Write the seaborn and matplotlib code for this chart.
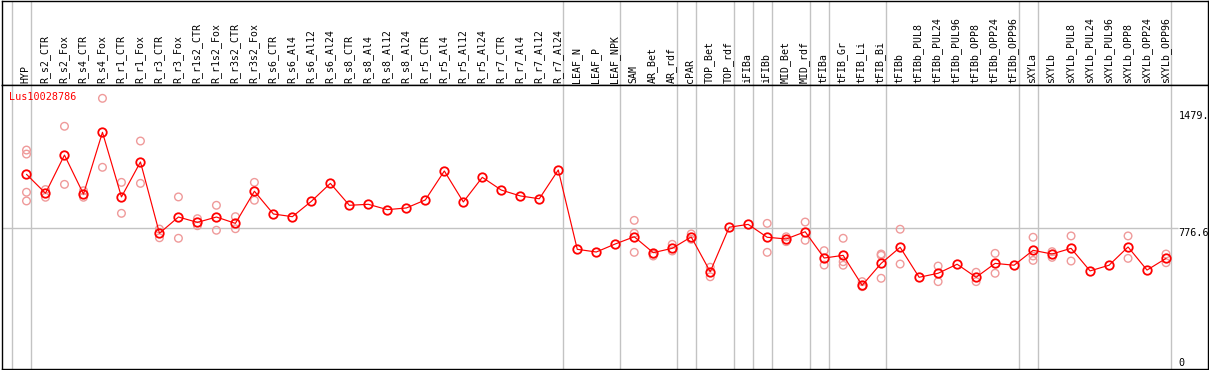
"""Expression profile of Lus10028786 across tissues/treatments (means + replicates)."""

import matplotlib

matplotlib.use("Agg")

import matplotlib.pyplot as plt  # noqa: E402
import numpy as np  # noqa: E402
import pandas as pd  # noqa: E402
import seaborn as sns  # noqa: E402

gene_id = "Lus10028786"

categories = [
    "HYP", "R_s2_CTR", "R_s2_Fox", "R_s4_CTR", "R_s4_Fox", "R_r1_CTR", "R_r1_Fox",
    "R_r3_CTR", "R_r3_Fox", "R_r1s2_CTR", "R_r1s2_Fox", "R_r3s2_CTR", "R_r3s2_Fox",
    "R_s6_CTR", "R_s6_Al4", "R_s6_Al12", "R_s6_Al24", "R_s8_CTR", "R_s8_Al4",
    "R_s8_Al12", "R_s8_Al24", "R_r5_CTR", "R_r5_Al4", "R_r5_Al12", "R_r5_Al24",
    "R_r7_CTR", "R_r7_Al4", "R_r7_Al12", "R_r7_Al24", "LEAF_N", "LEAF_P", "LEAF_NPK",
    "SAM", "AR_Bet", "AR_rdf", "cPAR", "TOP_Bet", "TOP_rdf", "iFIBa", "iFIBb",
    "MID_Bet", "MID_rdf", "tFIBa", "tFIB_Gr", "tFIB_Li", "tFIB_Bi", "tFIBb",
    "tFIBb_PUL8", "tFIBb_PUL24", "tFIBb_PUL96", "tFIBb_OPP8", "tFIBb_OPP24",
    "tFIBb_OPP96", "sXYLa", "sXYLb", "sXYLb_PUL8", "sXYLb_PUL24", "sXYLb_PUL96",
    "sXYLb_OPP8", "sXYLb_OPP24", "sXYLb_OPP96",
]

means = [
    1099, 986, 1214, 981, 1350, 964, 1173, 747, 844, 812, 844, 806, 998,
    862, 846, 938, 1045, 914, 920, 888, 898, 946, 1119, 934, 1081,
    1005, 970, 953, 1125, 651, 635, 683,
    726, 631, 657, 725, 517, 783, 800, 723,
    713, 756, 599, 615, 436, 567, 663,
    484, 508, 562, 484, 567,
    556, 645, 623, 657, 522, 556,
    665, 527, 597,
]

# individual replicate values (only where they are visible apart from the mean)
replicates = {
    "HYP": [1244, 1220, 992, 940],
    "R_s2_CTR": [1008, 962],
    "R_s2_Fox": [1386, 1039],
    "R_s4_CTR": [1001, 962],
    "R_s4_Fox": [1553, 1141],
    "R_r1_CTR": [1051, 866],
    "R_r1_Fox": [1298, 1045],
    "R_r3_CTR": [772, 720],
    "R_r3_Fox": [964, 717],
    "R_r1s2_CTR": [834, 792],
    "R_r1s2_Fox": [914, 765],
    "R_r3s2_CTR": [846, 774],
    "R_r3s2_Fox": [1051, 944],
    "SAM": [824, 747, 633],
    "AR_Bet": [623, 611],
    "AR_rdf": [681, 641],
    "cPAR": [743, 711],
    "TOP_Bet": [544, 487],
    "iFIBb": [806, 633],
    "MID_Bet": [726, 697],
    "MID_rdf": [814, 705],
    "tFIBa": [643, 557],
    "tFIB_Gr": [717, 577, 556],
    "tFIB_Li": [458, 428],
    "tFIB_Bi": [623, 615, 478],
    "tFIBb": [771, 563],
    "tFIBb_PUL24": [551, 458],
    "tFIBb_OPP8": [514, 458],
    "tFIBb_OPP24": [627, 508],
    "sXYLa": [723, 611, 585],
    "sXYLb": [637, 603],
    "sXYLb_PUL8": [731, 581],
    "sXYLb_OPP8": [731, 597],
    "sXYLb_OPP96": [623, 571],
}

# index of the last category in each group (separator lines)
group_ends = [-1, 0, 28, 31, 34, 35, 37, 38, 39, 41, 42, 45, 52, 53, 60]

ref_value = 776.6
scale_marks = [1479, 776.6, 0]
scale_labels = ["1479.", "776.6", "0"]

GRID = "#c3c3c3"
MEAN_RED = "#ff0000"
REP_PINK = "#ef9a9a"

sns.set_style("white")
plt.rcParams["font.family"] = ["DejaVu Sans Mono"]

W, H = 1209, 370
fig = plt.figure(figsize=(W / 100, H / 100), dpi=100)


def px_axes(left, top, right, bottom):
    return fig.add_axes([left / W, 1 - bottom / H, (right - left) / W, (bottom - top) / H])


ax_h = px_axes(1.5, 0.7, 1208, 85)
ax = px_axes(1.5, 85, 1208, 369)

xlim = (-1.316, 62.21)
for a in (ax_h, ax):
    a.set_xlim(*xlim)
    for s in a.spines.values():
        s.set_color("black")
        s.set_linewidth(1.0)
        s.set_visible(True)
    for g in group_ends:
        a.axvline(g + 0.25, color=GRID, lw=1.0, zorder=1)
ax_h.set_ylim(0, 1)
ax_h.set_xticks([])
ax_h.set_yticks([])

# header labels
for i, name in enumerate(categories):
    ax_h.text(i - 0.05, 0.018, name, rotation=90, ha="center", va="bottom",
              fontsize=7.1, color="black",
              transform=ax_h.get_xaxis_transform())

# data
df_mean = pd.DataFrame({"pos": np.arange(len(categories)), "value": means})
rep_pos = [categories.index(c) for c, vals in replicates.items() for _ in vals]
rep_val = [v for vals in replicates.values() for v in vals]
df_rep = pd.DataFrame({"pos": rep_pos, "value": rep_val})

ax.hlines(ref_value, xlim[0], 60.63, color=GRID, lw=1.0, zorder=1)

sns.scatterplot(data=df_rep, x="pos", y="value", ax=ax, marker="o", s=30,
                color="none", edgecolor=REP_PINK, linewidth=1.0, zorder=2)
sns.lineplot(data=df_mean, x="pos", y="value", ax=ax, color=MEAN_RED, lw=0.85,
             marker="o", markersize=6.1, markerfacecolor="none",
             markeredgecolor=MEAN_RED, markeredgewidth=1.3, zorder=3)

ax.set_xlim(*xlim)
ax.set_ylim(-63.9, 1632.6)
ax.set_xticks([])
ax.set_yticks([])
ax.set_xlabel("")
ax.set_ylabel("")

ax.text(8 / 1206.5, 1 - 11.7 / 284, gene_id, color=MEAN_RED, fontsize=7.3,
        ha="left", va="center", transform=ax.transAxes)

for v, lab in zip(scale_marks, scale_labels):
    ax.text(60.66, v, lab, fontsize=7.3, ha="left", va="top", color="black")

fig.savefig("out.png", dpi=100)
